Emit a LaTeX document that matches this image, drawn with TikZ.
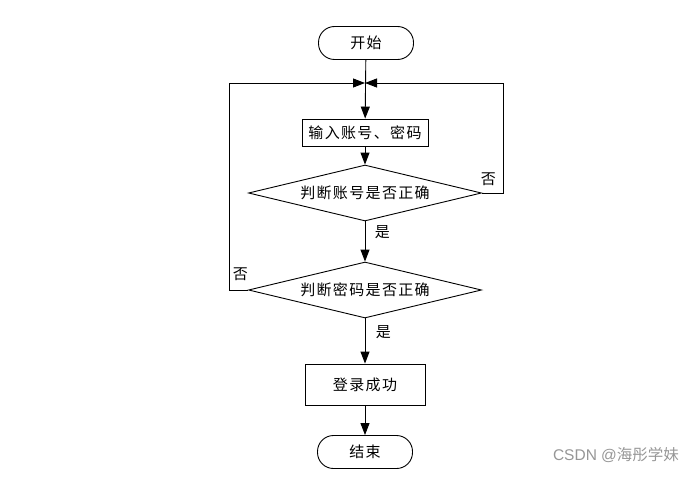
\documentclass[tikz,border=0pt]{standalone}
\usepackage{fontspec}
\newfontfamily\cjk[LetterSpace=9]{Noto Sans CJK SC}
\newfontfamily\wmcjk{Noto Sans CJK SC}
\setmainfont{Liberation Sans}
\usetikzlibrary{shapes.geometric,arrows.meta}
\definecolor{wmgray}{RGB}{150,150,150}

\begin{document}
\begin{tikzpicture}[x=1pt,y=-1pt,line width=0.9pt,
   >={Triangle[length=12pt,width=9pt]},
   every node/.style={font=\cjk\fontsize{15}{17}\selectfont},
   proc/.style={draw,rectangle,inner sep=0pt},
   term/.style={draw,rectangle,rounded corners=16pt,inner sep=0pt,
                minimum width=95pt,minimum height=33pt},
   decide/.style={draw,diamond,aspect=4,inner sep=0pt,
                minimum width=233pt,minimum height=56pt}]
   \useasboundingbox (0,0) rectangle (700,476);

   \node[term] (start) at (366,43) {开始};
   \coordinate (join) at (365,83);
   \node[proc,minimum width=126pt,minimum height=27pt] (input) at (365,132.5) {输入账号、密码};
   \node[decide] (chkacc) at (365,193) {判断账号是否正确};
   \node[decide] (chkpwd) at (365,290) {判断密码是否正确};
   \node[proc,minimum width=120pt,minimum height=41pt] (success) at (365,384.5) {登录成功};
   \node[term] (stop) at (365,452) {结束};
   \coordinate (rturn) at (503,193);
   \coordinate (lturn) at (229,290);

   \draw[->] (start) -- (input);
   \draw[->] (input) -- (chkacc);
   \draw[->] (chkacc) -- node[right=6pt,pos=0.27] {是} (chkpwd);
   \draw[->] (chkpwd) -- node[right=7pt,pos=0.3] {是} (success);
   \draw[->] (success) -- (stop);

   % back to input when wrong
   \draw[->] (chkacc.east) -- node[above=4pt,pos=0.3] {否} (rturn) |- (join);
   \draw[->] (chkpwd.west) -- node[above=6pt,pos=0.4] {否} (lturn) |- (join);

   \node[text=wmgray,font=\fontsize{15.5}{17}\selectfont] (mark) at (616,455) {CSDN @{\wmcjk 海彤学妹}};
\end{tikzpicture}
\end{document}
